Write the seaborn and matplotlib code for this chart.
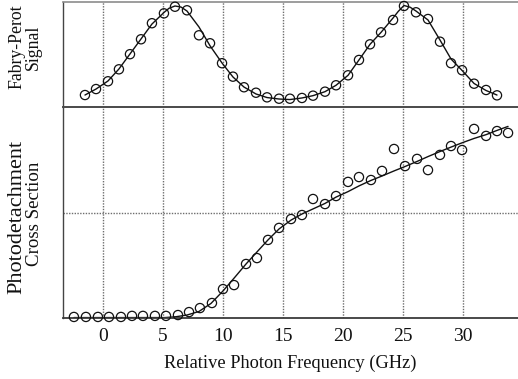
import matplotlib
matplotlib.use("Agg")
import matplotlib.pyplot as plt
import seaborn as sns
import numpy as np

# ---- data ----
fp_x = [-1.5, -0.58, 0.42, 1.33, 2.25, 3.17, 4.08, 5.08, 6.0, 7.0, 8.0, 8.92, 9.92,
        10.83, 11.75, 12.75, 13.67, 14.67, 15.58, 16.58, 17.5, 18.5, 19.42, 20.42,
        21.33, 22.25, 23.17, 24.17, 25.08, 26.08, 27.08, 28.08, 29.0, 29.92, 30.92,
        31.92, 32.83]
fp_y = [0.114, 0.171, 0.245, 0.359, 0.503, 0.645, 0.798, 0.892, 0.955, 0.921, 0.683,
        0.607, 0.417, 0.289, 0.188, 0.136, 0.092, 0.079, 0.079, 0.086, 0.108, 0.146,
        0.207, 0.302, 0.448, 0.597, 0.711, 0.829, 0.962, 0.902, 0.838, 0.622, 0.417,
        0.350, 0.222, 0.162, 0.111]

fp_fit_x = [-1.5, -0.58, 0.42, 1.33, 2.25, 3.17, 4.08, 5.08, 5.5, 6.0, 6.5, 7.0, 8.0,
            8.92, 9.92, 10.83, 11.75, 12.75, 13.67, 14.67, 15.58, 16.58, 17.5, 18.5,
            19.42, 20.42, 21.33, 22.25, 23.17, 24.17, 24.6, 25.08, 25.6, 26.08, 27.08,
            28.08, 29.0, 29.92, 30.92, 31.92, 32.83]
fp_fit_y = [0.114, 0.171, 0.248, 0.362, 0.505, 0.648, 0.79, 0.90, 0.94, 0.962, 0.952,
            0.914, 0.762, 0.583, 0.419, 0.286, 0.190, 0.124, 0.090, 0.076, 0.071, 0.086,
            0.108, 0.146, 0.207, 0.302, 0.448, 0.597, 0.711, 0.848, 0.91, 0.967, 0.95,
            0.914, 0.829, 0.638, 0.457, 0.348, 0.224, 0.157, 0.114]

pd_x = [-2.42, -1.42, -0.42, 0.5, 1.5, 2.42, 3.33, 4.33, 5.25, 6.25, 7.17, 8.08, 9.08,
        10.0, 10.92, 11.92, 12.83, 13.75, 14.67, 15.67, 16.58, 17.5, 18.5, 19.42, 20.42,
        21.33, 22.33, 23.25, 24.25, 25.17, 26.17, 27.08, 28.08, 29.0, 29.92, 30.92,
        31.92, 32.83, 33.75]
pd_y = [0.005, 0.005, 0.005, 0.005, 0.005, 0.01, 0.01, 0.01, 0.01, 0.014, 0.028, 0.047,
        0.071, 0.137, 0.156, 0.256, 0.284, 0.370, 0.427, 0.469, 0.488, 0.564, 0.540,
        0.578, 0.645, 0.668, 0.654, 0.697, 0.801, 0.720, 0.754, 0.701, 0.773, 0.815,
        0.796, 0.896, 0.863, 0.886, 0.877]

pd_fit_x = [-2.42, 5.17, 6.08, 7.0, 8.0, 9.0, 10.0, 11.0, 11.92, 12.83, 13.75, 14.67,
            15.67, 16.58, 17.58, 18.5, 19.42, 20.42, 21.33, 22.33, 23.25, 24.25, 25.17,
            26.17, 27.08, 28.08, 29.0, 30.0, 30.92, 31.92, 32.83, 33.75]
pd_fit_y = [0.002, 0.002, 0.006, 0.014, 0.031, 0.069, 0.128, 0.194, 0.256, 0.313,
            0.370, 0.422, 0.464, 0.493, 0.519, 0.543, 0.573, 0.599, 0.626, 0.652, 0.673,
            0.697, 0.718, 0.742, 0.765, 0.789, 0.810, 0.832, 0.851, 0.869, 0.889, 0.908]

xticks = [0, 5, 10, 15, 20, 25, 30]
xlabel = "Relative Photon Frequency (GHz)"
top_label = "Fabry-Perot\nSignal"
bot_label_1 = "Photodetachment"
bot_label_2 = "Cross Section"

# ---- figure ----
sns.set_theme(style="white")
plt.rcParams["font.family"] = ["Liberation Serif", "DejaVu Serif"]

W, H = 518, 379
fig = plt.figure(figsize=(W / 100, H / 100), dpi=100)
left_px, right_px = 63, 518
top_px, mid_px, bot_px = 2, 107, 318
axb = fig.add_axes([left_px / W, 1 - bot_px / H, (right_px - left_px) / W, (bot_px - mid_px) / H])
axt = fig.add_axes([left_px / W, 1 - mid_px / H, (right_px - left_px) / W, (mid_px - top_px) / H])
axt.patch.set_visible(False)

grid_kw = dict(color="#6e6e6e", linewidth=1.0, linestyle=(0, (1.0, 1.0)))
xlim = (-3.33, 34.58)
for ax in (axt, axb):
    ax.set_xlim(*xlim)
    ax.set_ylim(0, 1)
    ax.set_xticks(xticks)
    ax.set_yticks([])
    ax.set_axisbelow(True)
    ax.grid(True, axis="x", **grid_kw)
    ax.spines["right"].set_visible(False)
    ax.tick_params(axis="x", length=0)
    ax.tick_params(axis="y", length=0)

axt.spines["top"].set_color("#8c8c8c")
axt.spines["top"].set_linewidth(1.2)
axt.spines["left"].set_color("#444444")
axt.spines["left"].set_linewidth(1.0)
axt.spines["bottom"].set_color("#4a4a4a")
axt.spines["bottom"].set_linewidth(1.4)
axt.spines["bottom"].set_zorder(5)
axt.tick_params(axis="x", labelbottom=False)

axb.spines["top"].set_visible(False)
axb.spines["left"].set_color("#444444")
axb.spines["left"].set_linewidth(1.0)
axb.spines["bottom"].set_color("#3a3a3a")
axb.spines["bottom"].set_linewidth(1.3)
axb.axhline(0.5, zorder=0.5, **grid_kw)

mk = dict(marker="o", s=44, color="black", facecolor="none", edgecolor="#111111",
          linewidth=0.9, clip_on=False, zorder=3, legend=False)
sns.lineplot(x=fp_fit_x, y=fp_fit_y, ax=axt, color="#111111", lw=1.0, sort=False,
             estimator=None, zorder=2)
sns.scatterplot(x=fp_x, y=fp_y, ax=axt, **mk)
sns.lineplot(x=pd_fit_x, y=pd_fit_y, ax=axb, color="#111111", lw=1.0, sort=False,
             estimator=None, zorder=2)
sns.scatterplot(x=pd_x, y=pd_y, ax=axb, **mk)

axb.tick_params(axis="x", labelsize=14, pad=7, colors="#111111")
axb.set_xlabel(xlabel, fontsize=13.2, labelpad=7, color="#111111")
axt.set_ylabel("")
axb.set_ylabel("")

fig.text(25 / W, 1 - 47 / H, top_label, rotation=90, ha="center", va="center",
         multialignment="center", fontsize=12.8, color="#111111", linespacing=1.0)
fig.text(17 / W, 1 - 217 / H, bot_label_1, rotation=90, ha="center", va="center",
         fontsize=16, color="#111111")
fig.text(34.5 / W, 1 - 214 / H, bot_label_2, rotation=90, ha="center", va="center",
         fontsize=13.6, color="#111111")

fig.savefig("out.png", dpi=100, facecolor="white")
